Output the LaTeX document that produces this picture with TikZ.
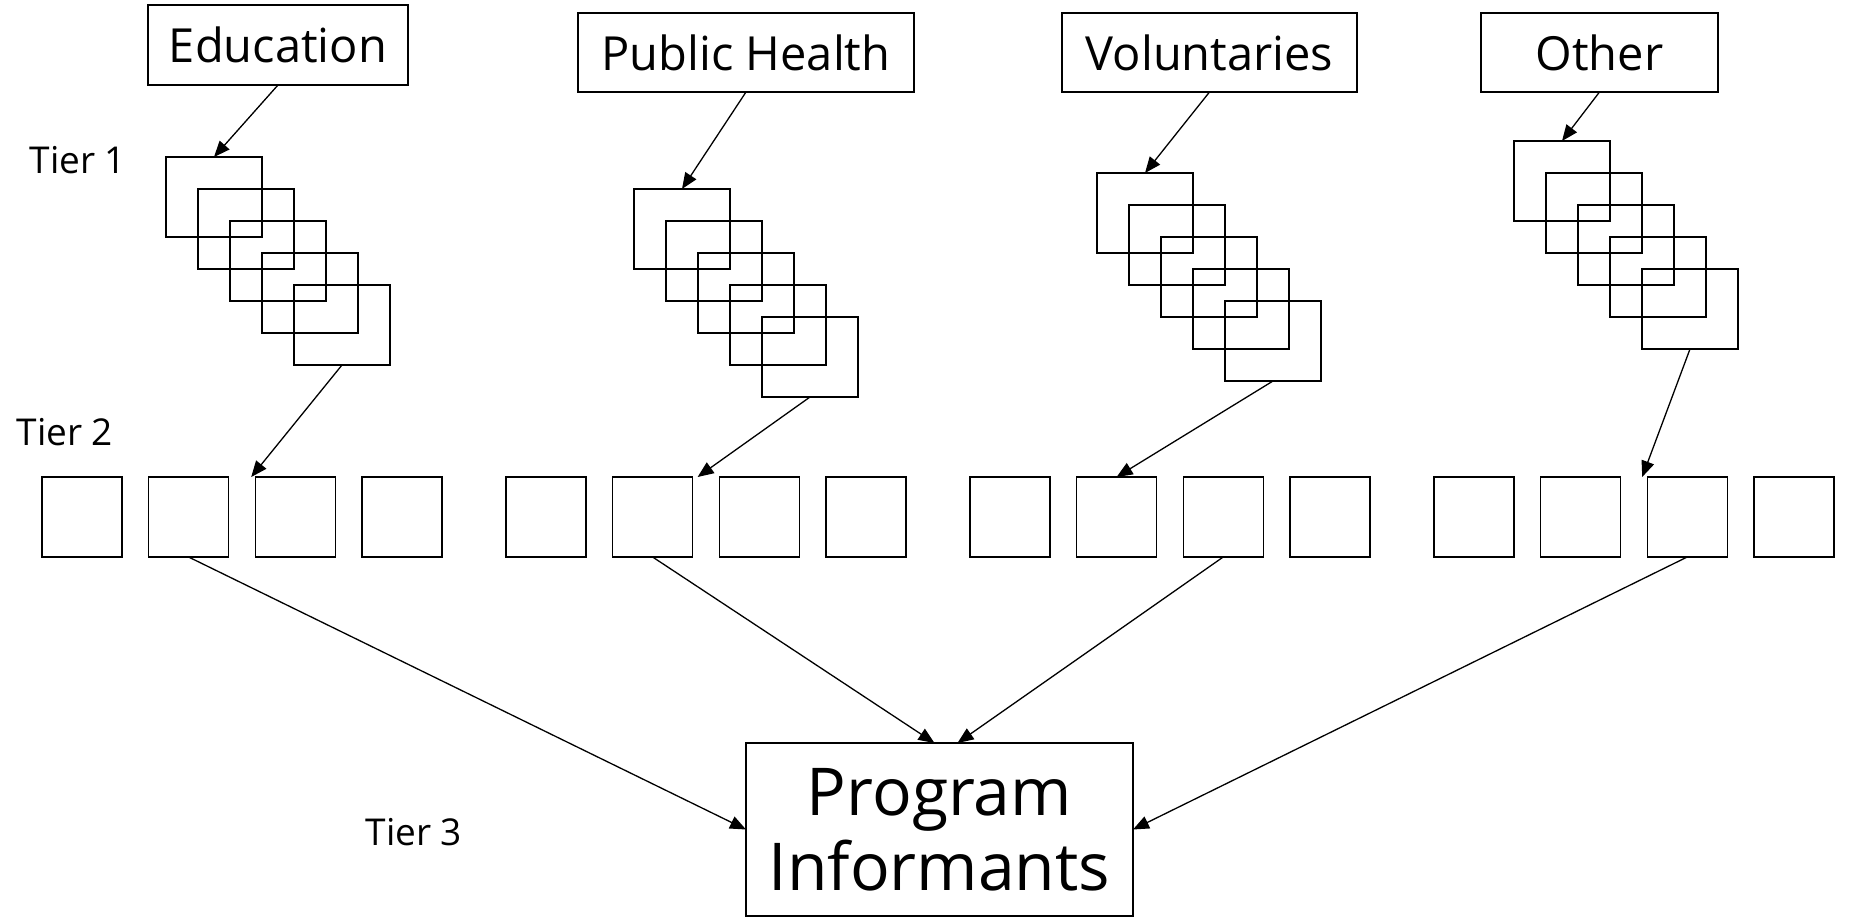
\documentclass[tikz,border=0pt]{standalone}
\usepackage{fontspec}
\setmainfont{Open Sans}
\usetikzlibrary{arrows.meta}
\begin{document}
\begin{tikzpicture}[x=1pt,y=-1pt,line width=1.4pt,
  lbl/.style={draw,inner sep=0pt,outer sep=0pt,anchor=north west,font=\fontsize{47}{56}\selectfont},
  sq/.style={draw,inner sep=0pt,outer sep=0pt,minimum width=96pt,minimum height=80pt,anchor=north west},
  tb/.style={draw,inner sep=0pt,outer sep=0pt,minimum width=80pt,minimum height=80pt,anchor=north west},
  tier/.style={anchor=base west,inner sep=0pt,font=\fontsize{37}{44}\selectfont},
  arr/.style={-{Triangle[length=16pt,width=13pt]},line width=1.3pt}]
\useasboundingbox (0,0) rectangle (1856,918);
% top category boxes
\node[lbl,minimum width=260pt,minimum height=80pt] (edu) at (148,5) {Education};
\node[lbl,minimum width=336pt,minimum height=79pt] (ph) at (578,13) {Public Health};
\node[lbl,minimum width=295pt,minimum height=79pt] (vol) at (1062,13) {Voluntaries};
\node[lbl,minimum width=237pt,minimum height=79pt] (oth) at (1481,13) {Other};
% tier labels
\node[tier] (tier1) at (29,173) {Tier 1};
\node[tier] (tier2) at (16,445) {Tier 2};
\node[tier] (tier3) at (365,845) {Tier 3};
% stacks of tier 1 squares
\foreach \i in {1,...,5}{
  \node[sq] (e\i) at ({166+32*(\i-1)},{157+32*(\i-1)}) {};
  \node[sq] (p\i) at ({634+32*(\i-1)},{189+32*(\i-1)}) {};
  \node[sq] (v\i) at ({1097+32*(\i-1)},{173+32*(\i-1)}) {};
  \node[sq] (o\i) at ({1514+32*(\i-1)},{141+32*(\i-1)}) {};
}
% tier 2 boxes
\foreach \g/\gx in {1/42,2/506,3/970,4/1434}{
  \foreach \j in {1,...,4}{
    \node[tb] (t\g\j) at ({\gx+106.6*(\j-1)},477) {};
  }
}
% tier 3
\node[draw,inner sep=0pt,outer sep=0pt,minimum width=387pt,minimum height=173pt,anchor=north west,align=center,font=\fontsize{66}{75}\selectfont] (prog) at (746,743) {Program\\Informants};
% arrows top -> tier 1
\draw[arr] (edu.south) -- (e1.north);
\draw[arr] (ph.south) -- (p1.north);
\draw[arr] (vol.south) -- (v1.north);
\draw[arr] (oth.south) -- (o1.north);
% tier 1 -> tier 2
\draw[arr] (e5.south) -- ([xshift=-4pt]t13.north west);
\draw[arr] (p5.south) -- ([xshift=5pt]t22.north east);
\draw[arr] (v5.south) -- (t32.north);
\draw[arr] (o5.south) -- ([xshift=-5pt]t43.north west);
% tier 2 -> tier 3
\draw[arr] (t12.south) -- (prog.west);
\draw[arr] (t22.south) -- ([xshift=-5pt]prog.north);
\draw[arr] (t33.south) -- ([xshift=18pt]prog.north);
\draw[arr] (t43.south) -- (prog.east);
\end{tikzpicture}
\end{document}
